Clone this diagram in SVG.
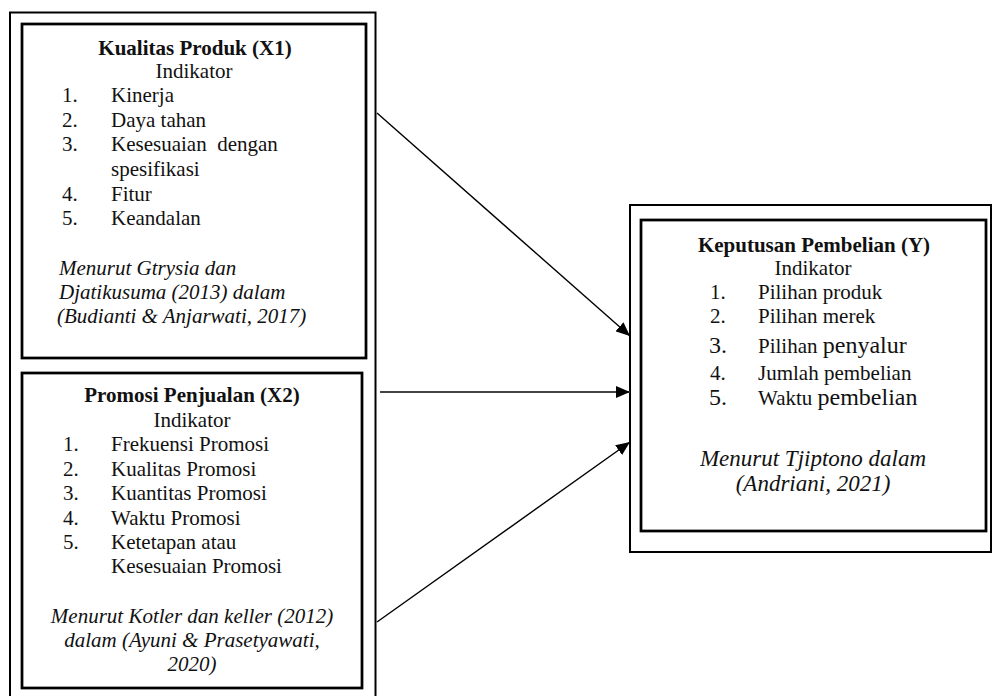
<svg xmlns="http://www.w3.org/2000/svg" width="992" height="696" viewBox="0 0 992 696" font-family="'Liberation Serif', 'Times New Roman', 'DejaVu Serif', serif">
<style>
.bg{fill:#fff}
.outer{fill:none;stroke:#000;stroke-width:2}
.inner{fill:none;stroke:#000;stroke-width:2.75}
text{font-family:'Liberation Serif','Times New Roman','DejaVu Serif',serif;font-size:21px;fill:#111}
.t{font-weight:bold;text-anchor:middle}
.c{text-anchor:middle}
.i{font-style:italic}
.big{font-size:24px}
.ri{font-size:23px}
.conn{stroke:#000;stroke-width:1.4;fill:none}
.conn2{stroke:#444;stroke-width:2;fill:none}
</style>
<defs>
<marker id="ah" viewBox="0 0 14 12" refX="14" refY="6" markerWidth="14" markerHeight="12" markerUnits="userSpaceOnUse" orient="auto">
<path d="M0,0 L14,6 L0,12 z" fill="#000"/>
</marker>
</defs>
<rect class="bg" x="0" y="0" width="992" height="696"/>

<g id="frame-left">
<rect class="outer" x="10" y="12.5" width="365.5" height="700"/>
</g>

<g id="node-x1">
<rect class="inner" x="22" y="24" width="344" height="334"/>
<text class="t" x="195" y="55">Kualitas Produk (X1)</text>
<text class="c" x="194" y="78">Indikator</text>
<text x="62" y="102">1.</text><text x="111" y="102">Kinerja</text>
<text x="62" y="127">2.</text><text x="111" y="127">Daya tahan</text>
<text x="62" y="151">3.</text><text x="111" y="151" xml:space="preserve">Kesesuaian  dengan</text>
<text x="111" y="176">spesifikasi</text>
<text x="62" y="201">4.</text><text x="111" y="201">Fitur</text>
<text x="62" y="225">5.</text><text x="111" y="225">Keandalan</text>
<text class="i" x="59" y="275">Menurut Gtrysia dan</text>
<text class="i" x="59" y="299">Djatikusuma (2013) dalam</text>
<text class="i" x="57" y="323">(Budianti &amp; Anjarwati, 2017)</text>
</g>

<g id="node-x2">
<rect class="inner" x="22" y="373" width="340" height="315"/>
<text class="t" x="192" y="402">Promosi Penjualan (X2)</text>
<text class="c" x="192" y="427">Indikator</text>
<text x="63" y="451">1.</text><text x="111" y="451">Frekuensi Promosi</text>
<text x="63" y="476">2.</text><text x="111" y="476">Kualitas Promosi</text>
<text x="63" y="500">3.</text><text x="111" y="500">Kuantitas Promosi</text>
<text x="63" y="525">4.</text><text x="111" y="525">Waktu Promosi</text>
<text x="63" y="549">5.</text><text x="111" y="549">Ketetapan atau</text>
<text x="111" y="573">Kesesuaian Promosi</text>
<text class="c i" x="192" y="623">Menurut Kotler dan keller (2012)</text>
<text class="c i" x="192" y="647">dalam (Ayuni &amp; Prasetyawati,</text>
<text class="c i" x="192" y="671">2020)</text>
</g>

<g id="node-y">
<rect class="outer" x="630" y="205" width="361" height="347"/>
<rect class="inner" x="641" y="220" width="345" height="311"/>
<text class="t" x="814" y="252">Keputusan Pembelian (Y)</text>
<text class="c" x="813" y="275">Indikator</text>
<text x="710" y="299">1.</text><text x="758" y="299">Pilihan produk</text>
<text x="710" y="323">2.</text><text x="758" y="323">Pilihan merek</text>
<text class="big" x="709" y="353">3.</text><text x="758" y="353">Pilihan <tspan class="big">penyalur</tspan></text>
<text x="710" y="380">4.</text><text x="758" y="380">Jumlah pembelian</text>
<text class="big" x="709" y="405">5.</text><text x="758" y="405">Waktu <tspan class="big">pembelian</tspan></text>
<text class="c i ri" x="813" y="466">Menurut Tjiptono dalam</text>
<text class="c i ri" x="813" y="491">(Andriani, 2021)</text>
</g>

<g id="connectors">
<line class="conn" x1="377" y1="113" x2="630" y2="336" marker-end="url(#ah)"/>
<line class="conn2" x1="380" y1="392" x2="630" y2="392" marker-end="url(#ah)"/>
<line class="conn" x1="377" y1="622" x2="630" y2="442" marker-end="url(#ah)"/>
</g>
</svg>
